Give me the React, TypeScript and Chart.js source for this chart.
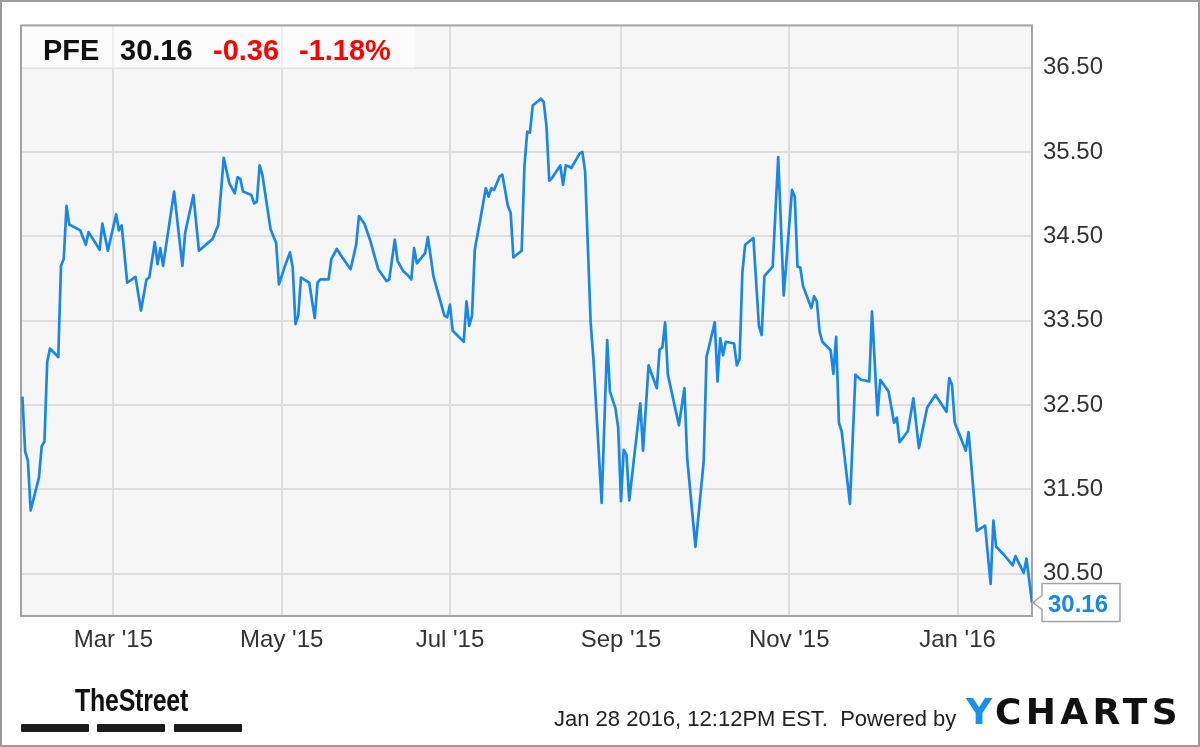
import React, { useEffect, useRef } from "react";
import { Chart, registerables } from "chart.js";

Chart.register(...registerables);

// ---- Data (x = days since 2015-01-01) ----
const tradingDays: number[] = [
  26, 27, 28, 29, 32, 33, 34, 35, 36, 39, 40, 41, 42, 43, 47, 49, 50, 54, 55, 57,
  60, 61, 62, 64, 67, 69, 71, 72, 74, 75, 76, 77, 81, 84, 85, 88, 90, 95, 97, 99,
  101, 103, 104, 105, 106, 109, 110, 111, 112, 113, 116, 118, 119, 121, 123, 124, 125, 126, 127, 130,
  132, 133, 134, 137, 138, 140, 142, 145, 147, 148, 150, 152, 155, 158, 159, 161, 162, 164, 166, 167,
  168, 169, 172, 173, 175, 176, 179, 180, 181, 182, 186, 187, 188, 189, 190, 192, 194, 195, 196, 197,
  199, 200, 202, 203, 204, 207, 208, 209, 210, 211, 214, 215, 216, 217, 218, 221, 222, 223, 224, 225,
  228, 229, 230, 232, 233, 236, 238, 239, 241, 242, 243, 244, 245, 246, 250, 251, 253, 256, 257, 258,
  259, 260, 264, 266, 267, 270, 273, 274, 277, 278, 279, 280, 281, 284, 285, 286, 287, 288, 291, 293,
  294, 295, 298, 300, 302, 305, 306, 307, 308, 309, 312, 313, 314, 315, 316, 319, 320, 321, 322, 323,
  326, 328, 330, 333, 334, 336, 337, 340, 342, 343, 344, 347, 349, 351, 354, 357, 361, 362, 363, 364,
  368, 369, 372, 375, 377, 378, 379, 382, 385, 386, 389, 390, 392,
];

const closePrices: number[] = [
  32.6, 31.95, 31.84, 31.25, 31.64, 32.01, 32.07, 33.01, 33.17, 33.07, 34.15, 34.23, 34.86, 34.64, 34.57, 34.4, 34.55, 34.34, 34.65, 34.33,
  34.76, 34.57, 34.63, 33.95, 34.02, 33.62, 33.99, 34.01, 34.43, 34.17, 34.36, 34.15, 35.03, 34.15, 34.54, 34.99, 34.33, 34.47, 34.63, 35.43,
  35.13, 35.01, 35.2, 35.18, 35.03, 34.99, 34.89, 34.91, 35.34, 35.23, 34.58, 34.42, 33.93, 34.13, 34.31, 34.13, 33.46, 33.56, 34.01, 33.95,
  33.53, 33.95, 33.99, 33.99, 34.23, 34.35, 34.25, 34.11, 34.4, 34.74, 34.65, 34.46, 34.11, 33.97, 33.99, 34.46, 34.21, 34.09, 34.03, 33.99,
  34.36, 34.18, 34.3, 34.49, 34.03, 33.91, 33.56, 33.54, 33.69, 33.38, 33.25, 33.73, 33.44, 33.56, 34.34, 34.7, 35.07, 34.97, 35.07, 35.05,
  35.21, 35.23, 34.86, 34.78, 34.25, 34.33, 35.33, 35.74, 35.73, 36.05, 36.13, 36.09, 35.8, 35.16, 35.19, 35.34, 35.11, 35.34, 35.33, 35.31,
  35.48, 35.5, 35.27, 33.48, 33.05, 31.34, 33.27, 32.66, 32.46, 32.23, 31.36, 31.97, 31.91, 31.37, 32.52, 31.96, 32.97, 32.7, 33.16, 33.18,
  33.48, 32.86, 32.26, 32.7, 31.87, 30.82, 31.84, 33.07, 33.48, 32.78, 33.29, 33.09, 33.25, 33.23, 32.97, 33.05, 34.07, 34.4, 34.48, 33.44,
  33.33, 34.03, 34.14, 35.44, 33.8, 35.05, 34.97, 34.14, 34.13, 33.91, 33.65, 33.79, 33.73, 33.37, 33.25, 33.15, 32.87, 33.31, 32.29, 32.19,
  31.33, 32.86, 32.8, 32.78, 33.61, 32.38, 32.8, 32.66, 32.29, 32.35, 32.06, 32.19, 32.58, 31.99, 32.47, 32.62, 32.42, 32.82, 32.74, 32.29,
  31.96, 32.18, 31.01, 31.07, 30.38, 31.13, 30.82, 30.72, 30.6, 30.71, 30.51, 30.68, 30.16,
];

const monthTickDays: number[] = [59, 120, 181, 243, 304, 365];
const monthTickLabels: string[] = ["Mar '15", "May '15", "Jul '15", "Sep '15", "Nov '15", "Jan '16"];
const priceTicks: number[] = [30.5, 31.5, 32.5, 33.5, 34.5, 35.5, 36.5];

const tickerSymbol = "PFE";
const lastPriceText = "30.16";
const changeText = "-0.36";
const changePctText = "-1.18%";
const footerText = "Jan 28 2016, 12:12PM EST.  Powered by";

const FONT = "'Liberation Sans', Arial, Helvetica, sans-serif";
const LINE_COLOR = "#1a87e6";

const decorPlugin = {
  id: "decor",
  beforeDraw(chart: any) {
    const { ctx, chartArea: a, width, height } = chart;
    ctx.save();
    ctx.fillStyle = "#ffffff";
    ctx.fillRect(0, 0, width, height);
    ctx.fillStyle = "#f6f6f6";
    ctx.fillRect(a.left, a.top, a.right - a.left, a.bottom - a.top);
    ctx.restore();
  },
  beforeDatasetsDraw(chart: any) {
    const { ctx, chartArea: a } = chart;
    ctx.save();
    // header overlay box
    ctx.fillStyle = "rgba(255,255,255,0.5)";
    ctx.fillRect(a.left, a.top, 394, 43);
    // plot border
    ctx.strokeStyle = "#a3a3a3";
    ctx.lineWidth = 2;
    ctx.strokeRect(a.left, a.top, a.right - a.left, a.bottom - a.top);
    ctx.restore();
  },
  afterDatasetsDraw(chart: any) {
    const meta = chart.getDatasetMeta(0);
    const pt = meta.data[meta.data.length - 1];
    if (!pt) return;
    const { ctx } = chart;
    const x = pt.x;
    const y = pt.y;
    const bx = x + 10;
    const bw = 78;
    const bh = 38;
    const by = y - 19;
    ctx.save();
    ctx.beginPath();
    ctx.moveTo(x + 1, y);
    ctx.lineTo(bx, y - 7);
    ctx.lineTo(bx, by);
    ctx.lineTo(bx + bw, by);
    ctx.lineTo(bx + bw, by + bh);
    ctx.lineTo(bx, by + bh);
    ctx.lineTo(bx, y + 7);
    ctx.closePath();
    ctx.fillStyle = "#ffffff";
    ctx.fill();
    ctx.strokeStyle = "#a3a3a3";
    ctx.lineWidth = 1.5;
    ctx.stroke();
    ctx.fillStyle = LINE_COLOR;
    ctx.font = `bold 24px ${FONT}`;
    ctx.textBaseline = "alphabetic";
    ctx.textAlign = "left";
    const last = closePrices[closePrices.length - 1];
    ctx.fillText(last.toFixed(2), bx + 6, y + 9);
    ctx.restore();
  },
  afterDraw(chart: any) {
    const { ctx, width, height } = chart;
    ctx.save();
    ctx.strokeStyle = "#9a9a9a";
    ctx.lineWidth = 2;
    ctx.strokeRect(1, 1, width - 2, height - 2);
    ctx.restore();
  },
};

export default function App() {
  const canvasRef = useRef<HTMLCanvasElement | null>(null);

  useEffect(() => {
    if (!canvasRef.current) return;
    const points = tradingDays.map((d, i) => ({ x: d, y: closePrices[i] }));
    const tickFont = { family: FONT, size: 24 };
    const chart = new Chart(canvasRef.current, {
      type: "line",
      data: {
        datasets: [
          {
            data: points,
            borderColor: LINE_COLOR,
            borderWidth: 2.7,
            pointRadius: 0,
            tension: 0,
            fill: false,
            borderJoinStyle: "round",
          },
        ],
      },
      options: {
        responsive: false,
        animation: false,
        events: [],
        layout: { padding: { left: 21, top: 21, right: 0, bottom: 0 } },
        plugins: {
          legend: { display: false },
          tooltip: { enabled: false },
          title: { display: false },
        },
        scales: {
          x: {
            type: "linear",
            min: 25.5,
            max: 392,
            afterBuildTicks: (axis: any) => {
              axis.ticks = monthTickDays.map((v) => ({ value: v }));
            },
            afterFit: (axis: any) => {
              axis.height = 131;
            },
            grid: { color: "#dedede", lineWidth: 2, drawTicks: false },
            border: { display: false },
            ticks: {
              autoSkip: false,
              maxRotation: 0,
              padding: 10,
              color: "#333333",
              font: tickFont,
              callback: (_v: any, i: number) => monthTickLabels[i],
            },
          },
          y: {
            type: "linear",
            position: "right",
            min: 30,
            max: 37,
            afterBuildTicks: (axis: any) => {
              axis.ticks = priceTicks.map((v) => ({ value: v }));
            },
            afterFit: (axis: any) => {
              axis.width = 168;
            },
            grid: { color: "#dedede", lineWidth: 2, drawTicks: false },
            border: { display: false },
            ticks: {
              padding: 11,
              color: "#333333",
              font: tickFont,
              callback: (v: any) => Number(v).toFixed(2),
            },
          },
        },
      } as any,
      plugins: [decorPlugin],
    });
    return () => chart.destroy();
  }, []);

  const abs = (s: React.CSSProperties): React.CSSProperties => ({
    position: "absolute",
    margin: 0,
    whiteSpace: "pre",
    ...s,
  });

  const headerFont: React.CSSProperties = {
    fontFamily: FONT,
    fontWeight: "bold",
    fontSize: 29,
    lineHeight: "29px",
    top: 36,
  };

  return (
    <div
      style={{
        position: "absolute",
        left: 0,
        top: 0,
        width: 1200,
        height: 747,
        background: "#fff",
        overflow: "hidden",
      }}
    >
      <canvas ref={canvasRef} width={1200} height={747} style={{ position: "absolute", left: 0, top: 0 }} />
      <div style={abs({ ...headerFont, left: 43, color: "#111" })}>{tickerSymbol}</div>
      <div style={abs({ ...headerFont, left: 120, color: "#111" })}>{lastPriceText}</div>
      <div style={abs({ ...headerFont, left: 213, color: "#ff0000" })}>{changeText}</div>
      <div style={abs({ ...headerFont, left: 299, color: "#ff0000" })}>{changePctText}</div>

      <div
        style={abs({
          left: 75,
          top: 684,
          fontFamily: FONT,
          fontWeight: "bold",
          fontSize: 32,
          lineHeight: "32px",
          letterSpacing: -0.3,
          color: "#111",
          transform: "scaleX(0.78)",
          transformOrigin: "left top",
        })}
      >
        TheStreet
      </div>
      <div style={abs({ left: 21, top: 724, width: 68, height: 8, background: "#1c1c1c", borderRadius: 1 })} />
      <div style={abs({ left: 97, top: 724, width: 68, height: 8, background: "#1c1c1c", borderRadius: 1 })} />
      <div style={abs({ left: 174, top: 724, width: 68, height: 8, background: "#1c1c1c", borderRadius: 1 })} />

      <div
        style={abs({
          left: 554,
          top: 708,
          fontFamily: FONT,
          fontSize: 22,
          lineHeight: "22px",
          color: "#222",
        })}
      >
        {footerText}
      </div>
      <div
        style={abs({
          left: 966,
          top: 694,
          fontFamily: "'DejaVu Sans', Verdana, sans-serif",
          fontWeight: "bold",
          fontSize: 36,
          lineHeight: "36px",
          letterSpacing: 4.3,
          color: "#111",
        })}
      >
        <span style={{ color: "#1e8fe8" }}>Y</span>CHARTS
      </div>
    </div>
  );
}
